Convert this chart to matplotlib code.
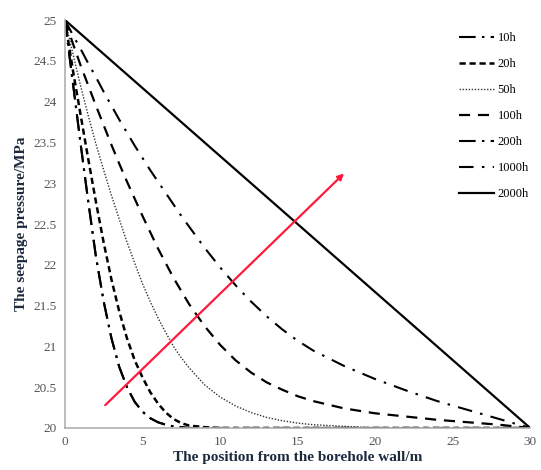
import numpy as np
import matplotlib.pyplot as plt

plt.rcParams['font.family'] = ['Liberation Serif', 'DejaVu Serif']

# Distance from the borehole wall (m)
position = [0, 0.5, 1, 1.5, 2, 2.5, 3, 3.5, 4, 4.5, 5, 5.5, 6, 6.5, 7, 7.5, 8,
            9, 10, 11, 12, 13, 14, 15, 16, 18, 20, 22, 24, 26, 28, 30]

# Seepage pressure (MPa) at each time
p_10h = [25, 24.25, 23.5, 22.78, 22.1, 21.55, 21.1, 20.75, 20.5, 20.32, 20.2, 20.12, 20.07, 20.04, 20.02, 20.01, 20.0,
         20, 20, 20, 20, 20, 20, 20, 20, 20, 20, 20, 20, 20, 20, 20]
p_20h = [25, 24.4, 23.85, 23.3, 22.77, 22.27, 21.82, 21.43, 21.1, 20.83, 20.62, 20.44, 20.3, 20.19, 20.11, 20.06, 20.03,
         20.01, 20, 20, 20, 20, 20, 20, 20, 20, 20, 20, 20, 20, 20, 20]
p_50h = [25, 24.6, 24.2, 23.83, 23.48, 23.16, 22.85, 22.56, 22.28, 22.02, 21.77, 21.55, 21.35, 21.17, 21.0, 20.86, 20.74,
         20.53, 20.38, 20.27, 20.19, 20.13, 20.09, 20.06, 20.04, 20.02, 20.0, 20, 20, 20, 20, 20]
p_100h = [25, 24.72, 24.45, 24.2, 23.95, 23.71, 23.47, 23.24, 23.02, 22.81, 22.6, 22.4, 22.2, 22.02, 21.84, 21.68, 21.52,
          21.25, 21.02, 20.83, 20.68, 20.56, 20.47, 20.39, 20.33, 20.24, 20.18, 20.14, 20.1, 20.07, 20.04, 20.0]
p_200h = p_10h
p_1000h = [25, 24.82, 24.65, 24.47, 24.3, 24.12, 23.95, 23.78, 23.62, 23.46, 23.31, 23.16, 23.02, 22.88, 22.74, 22.6, 22.47,
           22.21, 21.97, 21.75, 21.55, 21.37, 21.21, 21.07, 20.95, 20.76, 20.6, 20.46, 20.33, 20.22, 20.11, 20.0]
pos_2000h = [0, 30]
p_2000h = [25, 20]

labels = ['10h', '20h', '50h', '100h', '200h', '1000h', '2000h']

# Arrow showing the direction of increasing time
arrow_start = (2.6, 20.28)
arrow_end = (18.0, 23.12)

fig = plt.figure(figsize=(5.41, 4.70), dpi=100)
ax = fig.add_axes([0.120, 0.0894, 0.860, 0.868])

ax.plot(position, p_10h, color='black', lw=1.5, ls=(0, (8, 3, 1.2, 3)), label=labels[0])
ax.plot(position, p_20h, color='black', lw=1.8, ls=(0, (2.5, 1.5)), label=labels[1])
ax.plot(position, p_50h, color='#333333', lw=1.0, ls=(0, (1, 1.2)), label=labels[2])
ax.plot(position, p_100h, color='black', lw=1.6, ls=(0, (5, 3.5)), label=labels[3])
ax.plot(position, p_200h, color='black', lw=1.5, ls=(0, (8, 3, 1.2, 3)), label=labels[4])
ax.plot(position, p_1000h, color='black', lw=1.5, ls=(0, (7, 4, 1.2, 4)), label=labels[5])
ax.plot(pos_2000h, p_2000h, color='black', lw=1.6, ls='-', label=labels[6])

ax.annotate('', xy=arrow_end, xytext=arrow_start,
            arrowprops=dict(arrowstyle='-|>', color='#ff1a3c', lw=1.6,
                            mutation_scale=9, shrinkA=0, shrinkB=0))

ax.set_xlim(0, 30)
ax.set_ylim(20, 25)
ax.set_xticks(np.arange(0, 31, 5))
ax.set_yticks(np.arange(20, 25.01, 0.5))
ax.set_yticklabels(['20', '20.5', '21', '21.5', '22', '22.5', '23', '23.5', '24', '24.5', '25'])
ax.tick_params(length=0, labelsize=9.5, labelcolor='#555555', pad=6)

for side in ['top', 'right']:
    ax.spines[side].set_visible(False)
for side in ['left', 'bottom']:
    ax.spines[side].set_color('#b0b0b0')
    ax.spines[side].set_linewidth(1.2)

ax.set_xlabel('The position from the borehole wall/m', fontsize=11, fontweight='bold',
              color='#1c2a3e', labelpad=2)
ax.set_ylabel('The seepage pressure/MPa', fontsize=11, fontweight='bold',
              color='#1c2a3e', labelpad=4)

ax.legend(loc='upper left', bbox_to_anchor=(0.836, 0.982), frameon=False,
          fontsize=9, handlelength=2.8, labelspacing=1.12, handletextpad=0.3,
          borderaxespad=0)

plt.savefig('out.png', dpi=100)
